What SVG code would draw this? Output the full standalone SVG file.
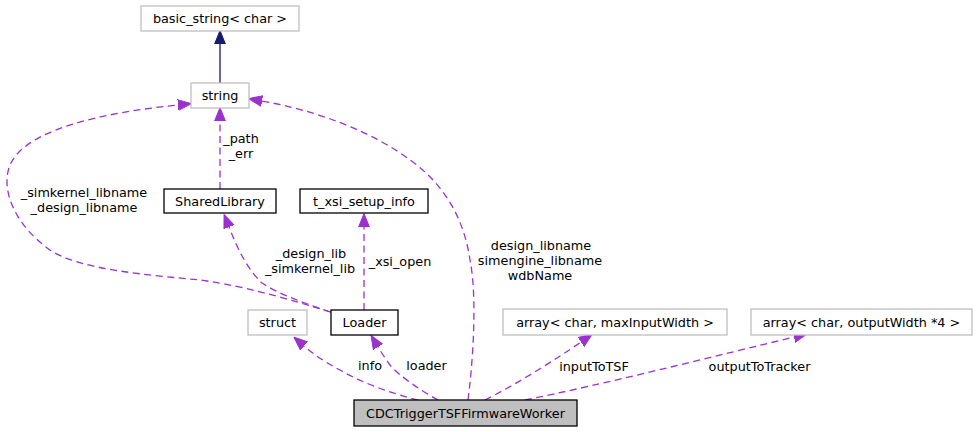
<svg xmlns="http://www.w3.org/2000/svg" width="978" height="432" viewBox="0 0 978 432">
<defs>
<style>
text{font-family:"DejaVu Sans","Liberation Sans",sans-serif;font-size:12.8px;fill:#000;text-anchor:middle}
.n rect{fill:#fff;stroke:#000;stroke-width:1.3}
.n.g rect{stroke:#bfbfbf}
.n.m rect{fill:#bfbfbf}
.e path{fill:none;stroke:#9a32cd;stroke-width:1.3;stroke-dasharray:7,4.5}
.e path.inh{stroke:#191970;stroke-dasharray:none}
</style>
<marker id="ap" markerUnits="userSpaceOnUse" markerWidth="14" markerHeight="12" refX="0" refY="6" orient="auto" viewBox="0 0 14 12">
<path d="M0,0.6 L13.5,6 L0,11.4 z" fill="#9a32cd" stroke="#9a32cd" stroke-width="1"/>
</marker>
<marker id="an" markerUnits="userSpaceOnUse" markerWidth="14" markerHeight="12" refX="0" refY="6" orient="auto" viewBox="0 0 14 12">
<path d="M0,0.6 L13.5,6 L0,11.4 z" fill="#191970" stroke="#191970" stroke-width="1"/>
</marker>
</defs>
<rect width="978" height="432" fill="#fff"/>
<g id="edges" class="e">
<path class="inh" d="M220,83 L220,44" marker-end="url(#an)"/>
<path d="M220,189 L220,121" marker-end="url(#ap)"/>
<path d="M331,312 C 290,300 250,287 200,280 C 150,275 80,270 50,250 C 15,225 0,190 10,165 C 25,130 100,113 178,105" marker-end="url(#ap)"/>
<path d="M330,312 C 305,303 280,295 262,283 C 248,270 238,250 229,227" marker-end="url(#ap)"/>
<path d="M364,310 L364,227" marker-end="url(#ap)"/>
<path d="M468,400 C 472,370 478,300 470,260 C 465,225 450,195 425,172 C 395,145 340,115 262,101" marker-end="url(#ap)"/>
<path d="M418,400 C 390,393 360,382 340,370 C 325,362 313,354 304,346" marker-end="url(#ap)"/>
<path d="M438,400 C 420,390 398,375 390,365 C 385,358 381,352 378,347" marker-end="url(#ap)"/>
<path d="M485,400 C 515,385 555,360 581,342" marker-end="url(#ap)"/>
<path d="M525,400 C 600,385 720,355 794,337" marker-end="url(#ap)"/>
</g>
<g id="edge-labels">
<text x="241" y="143">_path</text>
<text x="241" y="158">_err</text>
<text x="84" y="197">_simkernel_libname</text>
<text x="84" y="212">_design_libname</text>
<text x="311" y="258">_design_lib</text>
<text x="310" y="273">_simkernel_lib</text>
<text x="400" y="266">_xsi_open</text>
<text x="541" y="250">design_libname</text>
<text x="540" y="265">simengine_libname</text>
<text x="540" y="280">wdbName</text>
<text x="370" y="370">info</text>
<text x="426.5" y="370">loader</text>
<text x="594" y="371">inputToTSF</text>
<text x="759.5" y="371">outputToTracker</text>
</g>
<g id="node-basic_string" class="n g"><rect x="141" y="6" width="158" height="25"/><text x="220" y="23">basic_string&lt; char &gt;</text></g>
<g id="node-string" class="n g"><rect x="191" y="83" width="58" height="25"/><text x="220" y="100">string</text></g>
<g id="node-SharedLibrary" class="n"><rect x="164" y="189" width="112" height="24"/><text x="220" y="205.5">SharedLibrary</text></g>
<g id="node-t_xsi_setup_info" class="n"><rect x="300" y="189" width="128" height="24"/><text x="364" y="205.5">t_xsi_setup_info</text></g>
<g id="node-struct" class="n g"><rect x="248" y="310" width="59" height="25"/><text x="277.5" y="327">struct</text></g>
<g id="node-Loader" class="n"><rect x="331" y="310" width="67" height="25"/><text x="364.5" y="327">Loader</text></g>
<g id="node-array_maxInputWidth" class="n g"><rect x="503" y="309" width="224" height="26"/><text x="615" y="326.5">array&lt; char, maxInputWidth &gt;</text></g>
<g id="node-array_outputWidth" class="n g"><rect x="751" y="309" width="221" height="26"/><text x="861.5" y="326.5">array&lt; char, outputWidth *4 &gt;</text></g>
<g id="node-CDCTriggerTSFFirmwareWorker" class="n m"><rect x="354" y="400" width="223" height="26"/><text x="465.5" y="417.5">CDCTriggerTSFFirmwareWorker</text></g>
</svg>
